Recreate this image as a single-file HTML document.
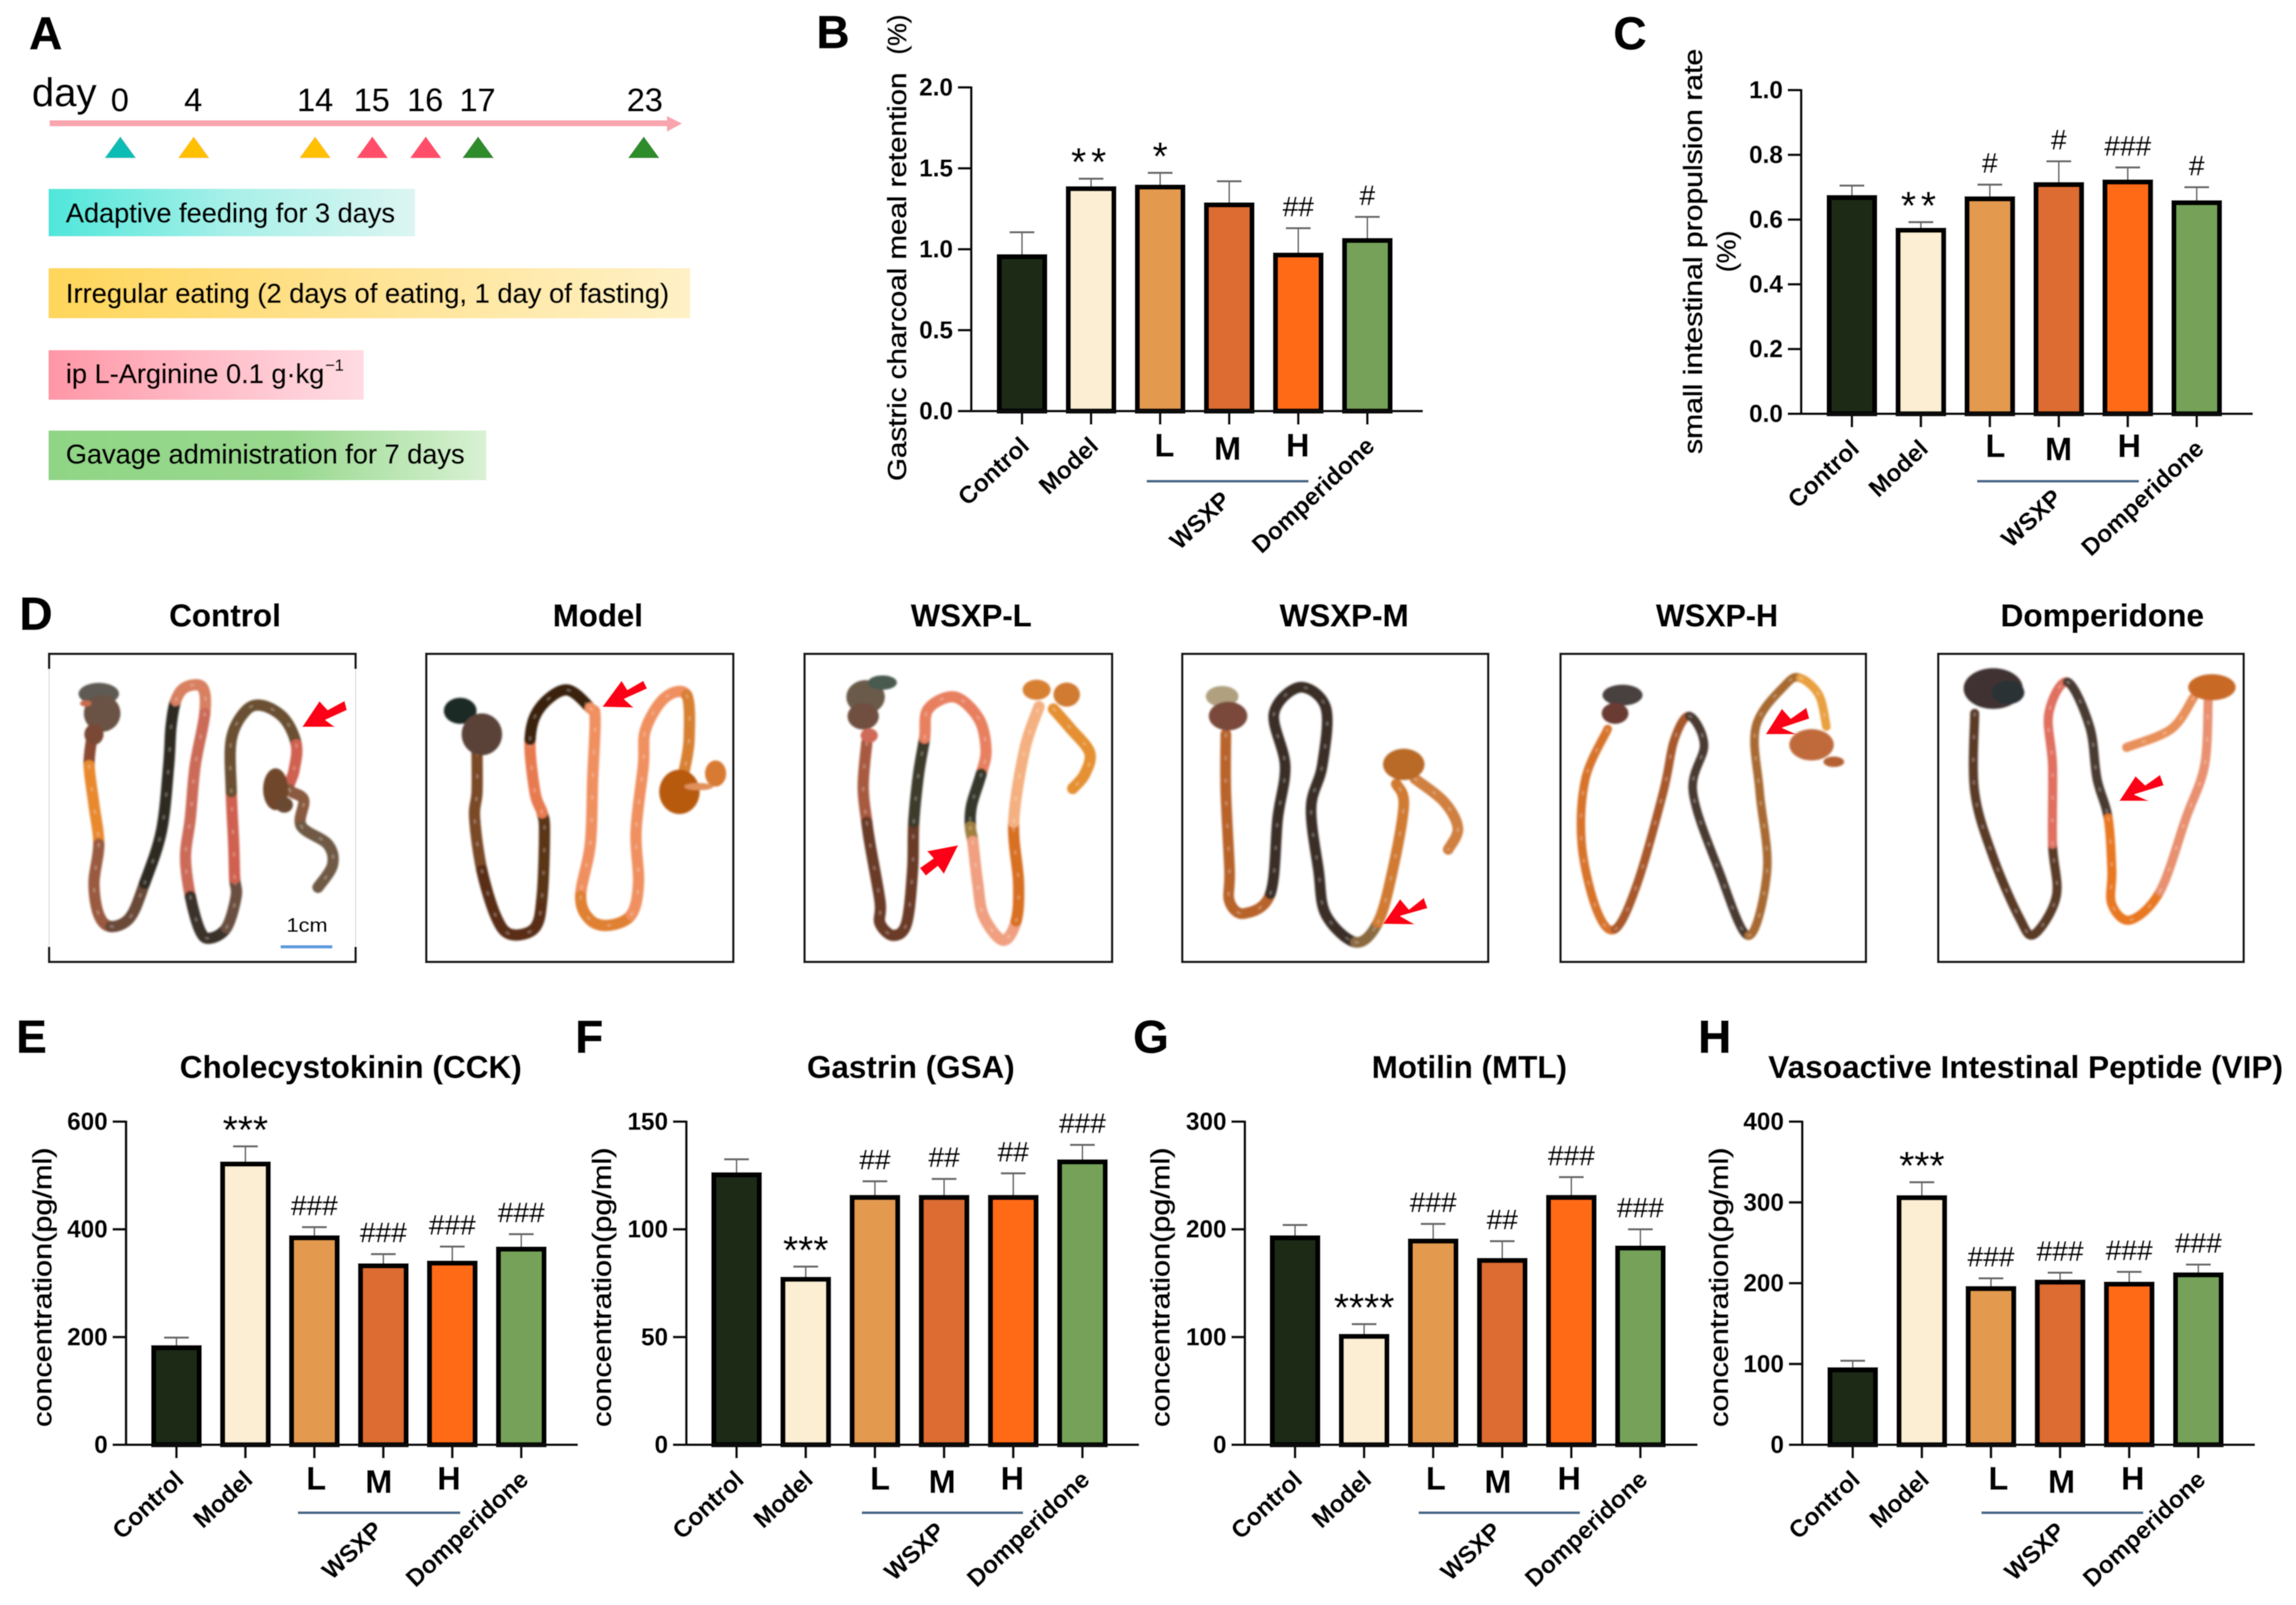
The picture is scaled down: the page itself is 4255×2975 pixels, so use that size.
<!DOCTYPE html>
<html lang="en">
<head>
<meta charset="utf-8">
<title>WSXP gastrointestinal motility figure</title>
<style>
html,body{margin:0;padding:0;background:#fff;width:4255px;height:2975px;overflow:hidden}
svg{display:block;position:absolute;left:0;top:0}
text{font-family:"Liberation Sans",Arial,sans-serif;fill:#000;stroke:#000;stroke-width:.7px}
.letter{font-size:85px;font-weight:700;stroke-width:1.4px}
.ctitle{font-size:58px;font-weight:700;text-anchor:middle;stroke-width:.8px}
.dtitle{font-size:58px;font-weight:700;text-anchor:middle;stroke-width:1px}
.ytitle{font-size:48px;text-anchor:middle;stroke-width:1.4px}
.num{font-size:60px;text-anchor:middle;stroke-width:1px}
.lab{font-size:50px;stroke-width:.9px}
</style>
</head>
<body>
<svg id="figure" xmlns="http://www.w3.org/2000/svg" width="4255" height="2975" viewBox="0 0 4255 2975">
<defs>
<filter id="soft" x="-2%" y="-2%" width="104%" height="104%"><feGaussianBlur stdDeviation="0.8"/></filter>
<filter id="gutblur" x="-5%" y="-5%" width="110%" height="110%"><feGaussianBlur stdDeviation="1.8"/></filter>
<linearGradient id="g-teal" x1="0" x2="1" y1="0" y2="0"><stop offset="0" stop-color="#4fe6da"/><stop offset=".5" stop-color="#a8f0e8"/><stop offset="1" stop-color="#dcf5f2"/></linearGradient>
<linearGradient id="g-yellow" x1="0" x2="1" y1="0" y2="0"><stop offset="0" stop-color="#ffd65a"/><stop offset=".5" stop-color="#ffe394"/><stop offset="1" stop-color="#fff1c6"/></linearGradient>
<linearGradient id="g-pink" x1="0" x2="1" y1="0" y2="0"><stop offset="0" stop-color="#ff96a6"/><stop offset=".5" stop-color="#ffbcc7"/><stop offset="1" stop-color="#ffdce2"/></linearGradient>
<linearGradient id="g-green" x1="0" x2="1" y1="0" y2="0"><stop offset="0" stop-color="#8fd585"/><stop offset=".55" stop-color="#98d88e"/><stop offset="1" stop-color="#d8f1d3"/></linearGradient>
</defs>
<g id="root" filter="url(#soft)">
<rect x="0" y="0" width="4255" height="2975" fill="#fff"/>

<!-- Panel letters -->
<text class="letter" x="54" y="91">A</text>
<text class="letter" x="1513" y="89">B</text>
<text class="letter" x="2990" y="91">C</text>
<text class="letter" x="36" y="1167">D</text>
<text class="letter" x="30" y="1951">E</text>
<text class="letter" x="1066" y="1951">F</text>
<text class="letter" x="2100" y="1951">G</text>
<text class="letter" x="3147" y="1951">H</text>

<!-- Panel A timeline -->
<g>
<text x="59" y="197" font-size="74" textLength="120" lengthAdjust="spacingAndGlyphs">day</text>
<text class="num" x="222" y="206">0</text>
<text class="num" x="358" y="206">4</text>
<text class="num" x="584" y="206">14</text>
<text class="num" x="689" y="206">15</text>
<text class="num" x="788" y="206">16</text>
<text class="num" x="885" y="206">17</text>
<text class="num" x="1195" y="206">23</text>
<rect x="92" y="223" width="1148" height="11" fill="#f9a5ae"/>
<polygon points="1236,215 1264,229 1236,244" fill="#f9a5ae"/>
<polygon points="223,253 252,293 194,293" fill="#0cbdb5"/>
<polygon points="359,253 388,293 330,293" fill="#ffc000"/>
<polygon points="584,253 613,293 555,293" fill="#ffc000"/>
<polygon points="690,253 719,293 661,293" fill="#ff4d6a"/>
<polygon points="789,253 818,293 760,293" fill="#ff4d6a"/>
<polygon points="886,253 915,293 857,293" fill="#2f8c2a"/>
<polygon points="1193,253 1222,293 1164,293" fill="#2f8c2a"/>

<rect x="90" y="350" width="679" height="88" fill="url(#g-teal)"/>
<text class="lab" x="122" y="412" textLength="610" lengthAdjust="spacingAndGlyphs">Adaptive feeding for 3 days</text>
<rect x="90" y="497" width="1189" height="93" fill="url(#g-yellow)"/>
<text class="lab" x="122" y="561" textLength="1118" lengthAdjust="spacingAndGlyphs">Irregular eating (2 days of eating, 1 day of fasting)</text>
<rect x="90" y="649" width="584" height="92" fill="url(#g-pink)"/>
<text class="lab" x="122" y="710" textLength="479" lengthAdjust="spacingAndGlyphs">ip L-Arginine 0.1 g·kg</text>
<text x="603" y="687" font-size="30" textLength="34" lengthAdjust="spacingAndGlyphs">−1</text>
<rect x="90" y="798" width="811" height="92" fill="url(#g-green)"/>
<text class="lab" x="122" y="859" textLength="739" lengthAdjust="spacingAndGlyphs">Gavage administration for 7 days</text>
</g>

<!-- Panel D titles -->
<text class="dtitle" x="417" y="1161" textLength="207" lengthAdjust="spacingAndGlyphs">Control</text>
<text class="dtitle" x="1108" y="1161" textLength="167" lengthAdjust="spacingAndGlyphs">Model</text>
<text class="dtitle" x="1800" y="1161" textLength="224" lengthAdjust="spacingAndGlyphs">WSXP-L</text>
<text class="dtitle" x="2491" y="1161" textLength="239" lengthAdjust="spacingAndGlyphs">WSXP-M</text>
<text class="dtitle" x="3182" y="1161" textLength="226" lengthAdjust="spacingAndGlyphs">WSXP-H</text>
<text class="dtitle" x="3896" y="1161" textLength="377" lengthAdjust="spacingAndGlyphs">Domperidone</text>

<!-- Panel D frames -->
<g fill="none" stroke="#161616" stroke-width="4.5">
<path d="M91 1240V1212H659V1240M91 1755V1783H659V1755"/>
<path d="M91 1240V1755M659 1240V1755" stroke="#dcdcdc" stroke-width="2"/>
<rect x="790" y="1212" width="569" height="571"/>
<rect x="1491" y="1212" width="570" height="571"/>
<rect x="2191" y="1212" width="567" height="571"/>
<rect x="2892" y="1212" width="566" height="571"/>
<rect x="3592" y="1212" width="566" height="571"/>
</g>
<g id="guts" filter="url(#gutblur)"></g>
<text x="531" y="1727" font-size="36" textLength="76" lengthAdjust="spacingAndGlyphs">1cm</text>
<rect x="520" y="1752" width="96" height="6" fill="#5b9bdf"/>

<!-- Chart titles -->
<text class="ctitle" x="650" y="1998" textLength="634" lengthAdjust="spacingAndGlyphs">Cholecystokinin (CCK)</text>
<text class="ctitle" x="1688" y="1998" textLength="385" lengthAdjust="spacingAndGlyphs">Gastrin (GSA)</text>
<text class="ctitle" x="2723" y="1998" textLength="362" lengthAdjust="spacingAndGlyphs">Motilin (MTL)</text>
<text class="ctitle" x="3754" y="1998" textLength="954" lengthAdjust="spacingAndGlyphs">Vasoactive Intestinal Peptide (VIP)</text>

<!-- Y axis titles -->
<text class="ytitle" transform="translate(1679 513) rotate(-90)" textLength="757" lengthAdjust="spacingAndGlyphs">Gastric charcoal meal retention</text>
<text class="ytitle" transform="translate(1679 64) rotate(-90)" textLength="74" lengthAdjust="spacingAndGlyphs">(%)</text>
<text class="ytitle" transform="translate(3154 466) rotate(-90)" textLength="751" lengthAdjust="spacingAndGlyphs">small intestinal propulsion rate</text>
<text class="ytitle" transform="translate(3216 466) rotate(-90)" textLength="77" lengthAdjust="spacingAndGlyphs">(%)</text>
<text class="ytitle" transform="translate(95 2386) rotate(-90)" textLength="518" lengthAdjust="spacingAndGlyphs">concentration(pg/ml)</text>
<text class="ytitle" transform="translate(1132 2386) rotate(-90)" textLength="518" lengthAdjust="spacingAndGlyphs">concentration(pg/ml)</text>
<text class="ytitle" transform="translate(2167 2386) rotate(-90)" textLength="518" lengthAdjust="spacingAndGlyphs">concentration(pg/ml)</text>
<text class="ytitle" transform="translate(3202 2386) rotate(-90)" textLength="518" lengthAdjust="spacingAndGlyphs">concentration(pg/ml)</text>

<g id="charts"></g>
</g>
</svg>
<script>
// ---- chart data ----
const categories = ['Control', 'Model', 'L', 'M', 'H', 'Domperidone'];

const bTickValues = [0, 0.5, 1, 1.5, 2];
const bTickLabels = ['0.0', '0.5', '1.0', '1.5', '2.0'];
const bValues = [0.97, 1.39, 1.4, 1.29, 0.98, 1.07];
const bErrorTops = [1.105, 1.436, 1.472, 1.42, 1.13, 1.2];
const bSignificance = ['', '**', '*', '', '##', '#'];

const cTickValues = [0, 0.2, 0.4, 0.6, 0.8, 1];
const cTickLabels = ['0.0', '0.2', '0.4', '0.6', '0.8', '1.0'];
const cValues = [0.676, 0.575, 0.672, 0.716, 0.724, 0.66];
const cErrorTops = [0.705, 0.592, 0.708, 0.78, 0.761, 0.7];
const cSignificance = ['', '**', '#', '#', '###', '#'];

const eTickValues = [0, 200, 400, 600];
const eTickLabels = ['0', '200', '400', '600'];
const eValues = [185, 526, 389, 337, 342, 368];
const eErrorTops = [199, 554, 404, 354, 368, 391];
const eSignificance = ['', '***', '###', '###', '###', '###'];

const fTickValues = [0, 50, 100, 150];
const fTickLabels = ['0', '50', '100', '150'];
const fValues = [126.5, 78, 116, 116, 116, 132.5];
const fErrorTops = [132.5, 82.7, 122.3, 123.4, 126, 139.2];
const fSignificance = ['', '***', '##', '##', '##', '###'];

const gTickValues = [0, 100, 200, 300];
const gTickLabels = ['0', '100', '200', '300'];
const gValues = [194.5, 103, 191.5, 173.5, 232, 185];
const gErrorTops = [204, 112, 205, 189, 248.5, 200];
const gSignificance = ['', '****', '###', '##', '###', '###'];

const hTickValues = [0, 100, 200, 300, 400];
const hTickLabels = ['0', '100', '200', '300', '400'];
const hValues = [96, 309, 196.5, 204.5, 202, 213.5];
const hErrorTops = [104, 325, 206, 213, 214, 223];
const hSignificance = ['', '***', '###', '###', '###', '###'];

// ---- styling ----
const barColors = ['#1c2b17', '#fbeed3', '#e39a50', '#dd6c31', '#ff6a12', '#74a258'];
const NS = 'http://www.w3.org/2000/svg';
function mk(tag, attrs, parent) {
  const el = document.createElementNS(NS, tag);
  for (const k in attrs) el.setAttribute(k, attrs[k]);
  parent.appendChild(el);
  return el;
}

function drawChart(p, values, errorTops, tickValues, tickLabels, significance) {
  const host = document.getElementById('charts');
  const g = mk('g', {}, host);
  
  
  const maxV = tickValues[tickValues.length - 1];
  const yScale = v => p.zero - (v / maxV) * (p.zero - p.top);
  const xScale = i => p.firstTick + i * p.step;
  const barW = 94, sw = 9.5;

  values.forEach((v, i) => {
    const x = xScale(i), top = yScale(v), et = yScale(errorTops[i]);
    const stem = mk('line', {x1: x, x2: x, y1: top, y2: et, stroke: '#6a6a6a', 'stroke-width': 3}, g);
    
    
    const cap = mk('line', {x1: x - 23, x2: x + 23, y1: et, y2: et, stroke: '#6a6a6a', 'stroke-width': 4}, g);
    
    
    const bar = mk('rect', {x: x - barW / 2 + sw / 2, y: top + sw / 2, width: barW - sw,
      height: Math.max(0, p.zero - top - sw / 2), fill: barColors[i], stroke: '#030303', 'stroke-width': sw}, g);
    
    
    const s = significance[i];
    if (s) {
      const isStar = s.charAt(0) === '*';
      const attrs = {x: x, y: isStar ? et - 6 : et - 22, 'text-anchor': 'middle', 'font-size': isStar ? 72 : 52};
      if (s === '**') attrs['letter-spacing'] = 9;
      const t = mk('text', attrs, g);
      t.textContent = s;
      
      
    }
    const tick = mk('line', {x1: x, x2: x, y1: p.zero, y2: p.zero + 25, stroke: '#0a0a0a', 'stroke-width': 5}, g);
    
    
    if (i >= 2 && i <= 4) {
      const big = mk('text', {x: p.firstTick + p.lmhX[i - 2], y: p.zero + (i === 3 ? p.lmhY + 6 : p.lmhY),
        'text-anchor': 'middle', 'font-size': 60, 'font-weight': 700, 'stroke-width': 1.6}, g);
      big.textContent = categories[i];
      
      
    } else {
      const lx = x + 16, ly = p.zero + 68;
      const lab = mk('text', {x: lx, y: ly, 'text-anchor': 'end', 'font-size': 45, 'font-weight': 700,
        transform: 'rotate(-43 ' + lx + ' ' + ly + ')'}, g);
      lab.textContent = categories[i];
      
      
    }
  });

  const yAxis = mk('line', {x1: p.axisX, x2: p.axisX, y1: p.top - 2, y2: p.zero + 2, stroke: '#0a0a0a', 'stroke-width': 5}, g);
  
  
  const xAxis = mk('line', {x1: p.axisX - 25, x2: p.axisEnd, y1: p.zero, y2: p.zero, stroke: '#0a0a0a', 'stroke-width': 5}, g);
  
  

  tickValues.forEach((v, i) => {
    const yy = yScale(v);
    const t = mk('line', {x1: p.axisX - 25, x2: p.axisX, y1: yy, y2: yy, stroke: '#0a0a0a', 'stroke-width': 5}, g);
    
    
    const lab = mk('text', {x: p.axisX - 34, y: yy + 15, 'text-anchor': 'end', 'font-size': 45, 'font-weight': 700, 'stroke-width': 1}, g);
    lab.textContent = tickLabels[i];
    
    
  });

  const rule = mk('line', {x1: p.ruleX1, x2: p.ruleX2, y1: p.ruleY, y2: p.ruleY, stroke: '#4a6a8c', 'stroke-width': 5}, g);
  
  
  const wx = p.wsxpX, wy = p.wsxpY;
  const ws = mk('text', {x: wx, y: wy, 'text-anchor': 'middle', 'font-size': 45, 'font-weight': 700,
    'dominant-baseline': 'middle', transform: 'rotate(-43 ' + wx + ' ' + wy + ')'}, g);
  ws.textContent = 'WSXP';
  
  
}

drawChart({id: 'b', axisX: 1800, axisEnd: 2637, firstTick: 1894, step: 128, zero: 762, top: 162,
  lmhX: [264, 381, 511], lmhY: 84, ruleX1: 2125, ruleX2: 2425, ruleY: 892, wsxpX: 2226, wsxpY: 967},
  bValues, bErrorTops, bTickValues, bTickLabels, bSignificance);
drawChart({id: 'c', axisX: 3338, axisEnd: 4175, firstTick: 3432, step: 127.8, zero: 767, top: 167,
  lmhX: [266, 383, 514], lmhY: 80, ruleX1: 3664, ruleX2: 3964, ruleY: 892, wsxpX: 3767, wsxpY: 963},
  cValues, cErrorTops, cTickValues, cTickLabels, cSignificance);
drawChart({id: 'e', axisX: 233.6, axisEnd: 1071, firstTick: 327, step: 127.8, zero: 2678, top: 2079,
  lmhX: [259, 375, 505], lmhY: 83, ruleX1: 552, ruleX2: 853, ruleY: 2804, wsxpX: 655, wsxpY: 2876},
  eValues, eErrorTops, eTickValues, eTickLabels, eSignificance);
drawChart({id: 'f', axisX: 1272, axisEnd: 2111, firstTick: 1365, step: 128.2, zero: 2678, top: 2079,
  lmhX: [266, 381, 511], lmhY: 83, ruleX1: 1597, ruleX2: 1896, ruleY: 2804, wsxpX: 1697, wsxpY: 2878},
  fValues, fErrorTops, fTickValues, fTickLabels, fSignificance);
drawChart({id: 'g', axisX: 2307, axisEnd: 3146, firstTick: 2400, step: 128, zero: 2678, top: 2079,
  lmhX: [261, 376, 508], lmhY: 83, ruleX1: 2629, ruleX2: 2928, ruleY: 2804, wsxpX: 2728, wsxpY: 2878},
  gValues, gErrorTops, gTickValues, gTickLabels, gSignificance);
drawChart({id: 'h', axisX: 3340, axisEnd: 4179, firstTick: 3433.5, step: 128.1, zero: 2678, top: 2079,
  lmhX: [270, 387, 519], lmhY: 83, ruleX1: 3672, ruleX2: 3972, ruleY: 2804, wsxpX: 3773, wsxpY: 2878},
  hValues, hErrorTops, hTickValues, hTickLabels, hSignificance);

// ---- intestine illustrations (stand-ins for the photographs) ----
const guts = [
 {name: 'control', m: [0.893, 0.4847, 0, 1080], w: 21,
  blobs: [[205,425,42,42,'#5f5a52'],[212,500,38,70,'#6b5244'],[195,580,20,40,'#7a4a36'],[178,462,12,12,'#c86a50'],
          [572,790,26,80,'#70462c'],[590,850,18,30,'#6a4a30']],
  tubes: [['#8a4a30','190,600 185,700'],['#e8892f','185,700 195,850 205,1000'],['#9a5a40','205,1000 195,1150 205,1270 230,1315'],
          ['#6a4a38','230,1315 270,1280 300,1150'],['#2e2a24','300,1150 335,950 350,700 355,550 365,450'],
          ['#d88060','365,450 385,400 420,400 425,500'],['#cc6a58','425,500 405,700 395,900 385,1050 395,1200'],
          ['#3a302a','395,1200 415,1330 435,1360 470,1320'],['#6a5040','470,1320 490,1200 487,1130'],
          ['#d06050','487,1130 485,1000 480,800'],['#6a5030','480,800 480,600 510,490 545,470 590,520 615,620'],
          ['#d06050','615,620 610,720 600,790'],['#8a5a40','600,790 630,830 625,930'],['#6f5a44','625,930 680,1000 690,1080 660,1165']],
  arrow: '627,552 663,453 680,487 715,452 720,487 675,525 695,552'},
 {name: 'model', m: [0.893, 0.4847, 0, 1080], w: 21,
  blobs: [[955,490,34,50,'#1f2a28'],[1000,580,42,80,'#5a4238'],[1410,800,42,85,'#b85a10'],[1485,730,22,50,'#d87a30'],[1450,780,30,14,'#e0905a']],
  tubes: [['#7a4a28','990,650 990,800 985,900 1000,1100'],['#5a2f18','1000,1100 1030,1280 1060,1345 1110,1320 1125,1200'],
          ['#5a3418','1125,1200 1130,950 1125,880'],['#e87a50','1125,880 1110,800 1100,600'],
          ['#3a2410','1100,600 1120,480 1175,410 1225,480'],['#f09060','1225,480 1235,520 1230,750 1225,1000 1205,1200'],
          ['#e08030','1205,1200 1225,1290 1265,1310 1310,1270'],['#f09060','1310,1270 1325,1150 1320,950 1335,700 1340,560 1380,440 1425,430'],
          ['#d88030','1425,430 1430,600 1420,720']],
  arrow: '1250,475 1290,375 1302,410 1335,375 1343,405 1295,445 1315,478'},
 {name: 'wsxp-l', m: [0.4464, 0.4464, 1430, 1100], w: 21,
  blobs: [[390,430,80,70,'#6a5a48'],[460,370,60,30,'#4a5a50'],[380,510,65,55,'#6f4f40'],[405,590,36,30,'#d06a58'],
          [1100,400,58,42,'#d88030'],[1225,420,55,50,'#d07a30']],
  tubes: [['#a85a40','395,620 380,800 395,950'],['#6a3a28','395,950 410,1050 450,1280 450,1370 505,1420 560,1370 585,1150 590,950'],
          ['#3d3a2a','590,950 610,750 635,600'],['#e88060','635,600 650,480 760,430 860,520 890,650 870,750'],
          ['#36392a','870,750 830,880 825,970'],['#a08040','825,970 835,1030'],
          ['#f0a080','835,1030 855,1200 880,1340 960,1440 1015,1360'],['#d87020','1015,1360 1025,1200 1005,950'],
          ['#f4b080','1005,950 1050,650 1110,470'],['#e59030','1170,480 1240,560 1320,660 1300,750 1250,810']],
  arrow: '775,1045 645,1070 672,1100 615,1140 640,1172 690,1132 715,1165'},
 {name: 'wsxp-m', m: [1.374, 0.4847, 2100, 1080], w: 20,
  blobs: [[120,435,22,40,'#b0a080'],[128,510,26,55,'#7a4a3a'],[365,695,28,60,'#b86a28']],
  tubes: [['#b8642a','125,580 125,800 130,1100 130,1220 150,1265 185,1190'],
          ['#3a2f28','185,1190 195,900 205,700 190,500 225,400 260,480 255,700 240,860 250,1100 260,1270 300,1375'],
          ['#8a6a40','300,1375 330,1300'],['#d07a30','330,1300 350,1100 365,850 355,770'],
          ['#d08040','380,750 420,840 438,940 425,1020']],
  arrow: '337,1305 360,1210 372,1250 392,1205 397,1245 360,1275 380,1307'},
 {name: 'wsxp-h', m: [1.374, 0.4847, 2100, 1080], w: 16,
  blobs: [[660,430,27,40,'#4a4040'],[650,500,18,40,'#6a3a30'],[915,620,30,60,'#c06a3a'],[945,685,14,20,'#b56030']],
  tubes: [['#d8732a','640,560 610,750 605,1000 625,1250 650,1325'],['#a8582a','650,1325 680,1150 715,800 730,600 750,510'],
          ['#4a3a30','750,510 770,620 755,800 790,1100 830,1350'],['#a86a30','830,1350 855,1100 845,800 840,550 880,390 900,365'],
          ['#e8a040','900,365 925,430 935,550']],
  arrow: '853,580 875,482 887,520 908,478 912,520 875,555 895,580'},
 {name: 'domperidone', m: [1.374, 0.4847, 2100, 1080], w: 17,
  blobs: [[1160,405,40,78,'#3f3030'],[1180,420,22,45,'#2a3034'],[1455,400,32,50,'#c86a28']],
  tubes: [['#5a3a28','1135,500 1135,800 1160,1050 1195,1280 1215,1345 1245,1200 1240,1000'],
          ['#e07060','1240,1000 1240,700 1235,500 1260,380'],['#4a3a30','1260,380 1290,550 1300,750 1315,900'],
          ['#e87820','1315,900 1320,1100 1320,1230 1345,1290 1385,1180'],['#e89070','1385,1180 1420,900 1445,700 1450,450'],
          ['#e8905a','1430,440 1400,560 1340,630']],
  arrow: '1330,835 1352,740 1365,775 1385,735 1390,775 1350,810 1370,835'}
];

function parsePts(s) {
  return s.split(' ').map(q => q.split(',').map(Number));
}
function same(a, b) {
  return a[0] === b[0] && a[1] === b[1];
}
// smooth a tube segment, borrowing tangents from touching neighbours
function smoothPath(pts, before, after) {
  const all = [before || pts[0]].concat(pts, [after || pts[pts.length - 1]]);
  let d = 'M' + pts[0][0] + ' ' + pts[0][1];
  for (let i = 1; i < all.length - 2; i++) {
    const p0 = all[i - 1], p1 = all[i], p2 = all[i + 1], p3 = all[i + 2];
    d += 'C' + (p1[0] + (p2[0] - p0[0]) / 6) + ' ' + (p1[1] + (p2[1] - p0[1]) / 6) + ' ' +
         (p2[0] - (p3[0] - p1[0]) / 6) + ' ' + (p2[1] - (p3[1] - p1[1]) / 6) + ' ' + p2[0] + ' ' + p2[1];
  }
  return d;
}

const gutsHost = document.getElementById('guts');
const arrowsHost = document.getElementById('charts');
guts.forEach(spec => {
  const tf = 'matrix(' + spec.m[0] + ' 0 0 ' + spec.m[1] + ' ' + spec.m[2] + ' ' + spec.m[3] + ')';
  const group = mk('g', {transform: tf}, gutsHost);
  
  
  const parsed = spec.tubes.map(t => parsePts(t[1]));
  spec.tubes.forEach((t, k) => {
    const pts = parsed[k];
    const prev = parsed[k - 1], next = parsed[k + 1];
    const before = prev && same(prev[prev.length - 1], pts[0]) ? prev[prev.length - 2] : null;
    const after = next && same(next[0], pts[pts.length - 1]) ? next[1] : null;
    const d = smoothPath(pts, before, after);
    const seg = mk('path', {d: d, fill: 'none', stroke: t[0], 'stroke-width': spec.w,
      'stroke-linecap': 'round', 'stroke-linejoin': 'round', 'vector-effect': 'non-scaling-stroke'}, group);
    
    
    const speck = mk('path', {d: d, fill: 'none', stroke: '#fff', 'stroke-opacity': 0.28, 'stroke-width': 4,
      'stroke-dasharray': '4 38', 'stroke-linecap': 'round', 'vector-effect': 'non-scaling-stroke'}, group);
    
    
  });
  spec.blobs.forEach(b => {
    const blob = mk('ellipse', {cx: b[0], cy: b[1], rx: b[2], ry: b[3], fill: b[4]}, group);
    
    
  });
  const arrow = mk('polygon', {points: spec.arrow, fill: '#fb0412', transform: tf}, arrowsHost);
  
  
});
</script>
</body>
</html>
